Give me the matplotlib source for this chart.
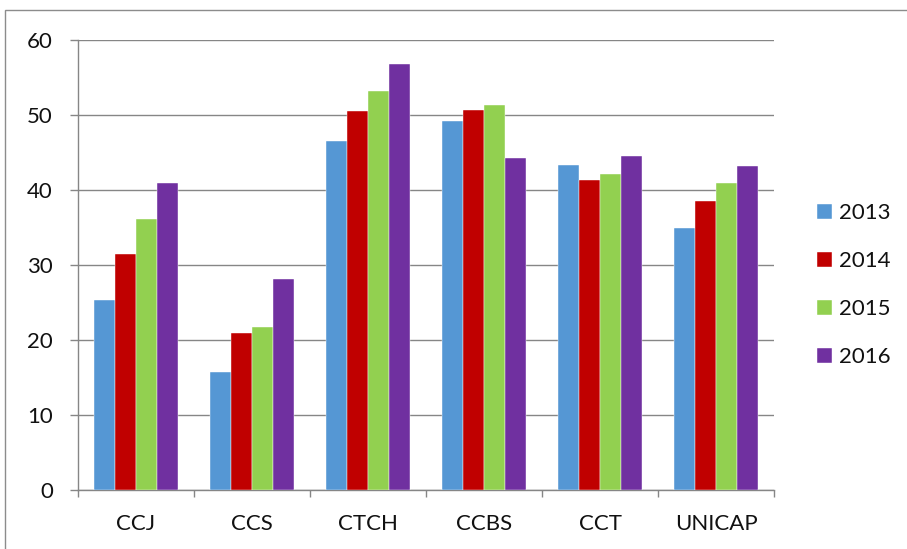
import numpy as np
import matplotlib
matplotlib.use("Agg")
import matplotlib.pyplot as plt
from matplotlib.patches import Rectangle

categories = ["CCJ", "CCS", "CTCH", "CCBS", "CCT", "UNICAP"]
years = ["2013", "2014", "2015", "2016"]
v2013 = [25.3, 15.7, 46.5, 49.2, 43.4, 34.9]
v2014 = [31.5, 21.0, 50.6, 50.7, 41.3, 38.5]
v2015 = [36.2, 21.8, 53.2, 51.3, 42.1, 40.9]
v2016 = [40.9, 28.2, 56.8, 44.3, 44.6, 43.2]
series = [v2013, v2014, v2015, v2016]
colors = ["#5597D4", "#C00000", "#92D050", "#7030A0"]
yticks = [0, 10, 20, 30, 40, 50, 60]

plt.rcParams["font.family"] = ["Lato", "DejaVu Sans"]

W, H = 907, 549
fig = plt.figure(figsize=(W / 100, H / 100), dpi=100)
fig.patch.set_facecolor("white")

# outer chart frame (runs past the right and bottom edges)
fig.patches.append(Rectangle((5 / W, -0.2), 1.5, 1 - 10 / H + 0.2,
                             transform=fig.transFigure, fill=False,
                             edgecolor="#8C8C8C", linewidth=1.0))

ax = fig.add_axes([78 / W, 1 - 490 / H, (774 - 78) / W, (490 - 40) / H])

gray = "#868686"
x = np.arange(len(categories))
bw = 0.181
for i, (vals, c, lab) in enumerate(zip(series, colors, years)):
    ax.bar(x + (i - 1.5) * bw, vals, width=bw, color=c, label=lab,
           edgecolor="white", linewidth=0.3, zorder=3)

ax.set_xlim(-0.5, len(categories) - 0.5)
ax.set_ylim(0, 60)
ax.set_yticks(yticks)
ax.set_yticklabels([str(t) for t in yticks], fontsize=16, color="#111111")
ax.yaxis.grid(True, color=gray, linewidth=1.0, zorder=0)
ax.set_axisbelow(True)

ax.set_xticks(np.arange(-0.5, len(categories), 1.0))
ax.set_xticklabels([])
ax.set_xticks(x, minor=True)
ax.set_xticklabels(categories, minor=True, fontsize=16, color="#111111")
ax.tick_params(axis="x", which="minor", length=0, pad=17)
ax.tick_params(axis="x", which="major", length=5, width=1, color=gray, direction="out")
ax.tick_params(axis="y", length=6, width=1, color=gray, direction="out", pad=12)

for s in ["top", "right"]:
    ax.spines[s].set_visible(False)
for s in ["left", "bottom"]:
    ax.spines[s].set_color(gray)
    ax.spines[s].set_linewidth(1.0)

leg = ax.legend(loc="center left", bbox_to_anchor=((817 - 78) / 696, 0.455),
                frameon=False, fontsize=16, handlelength=0.68, handleheight=0.68,
                handletextpad=0.3, labelspacing=1.26, borderpad=0, borderaxespad=0)
for t in leg.get_texts():
    t.set_color("#111111")

fig.savefig("out.png", dpi=100)
